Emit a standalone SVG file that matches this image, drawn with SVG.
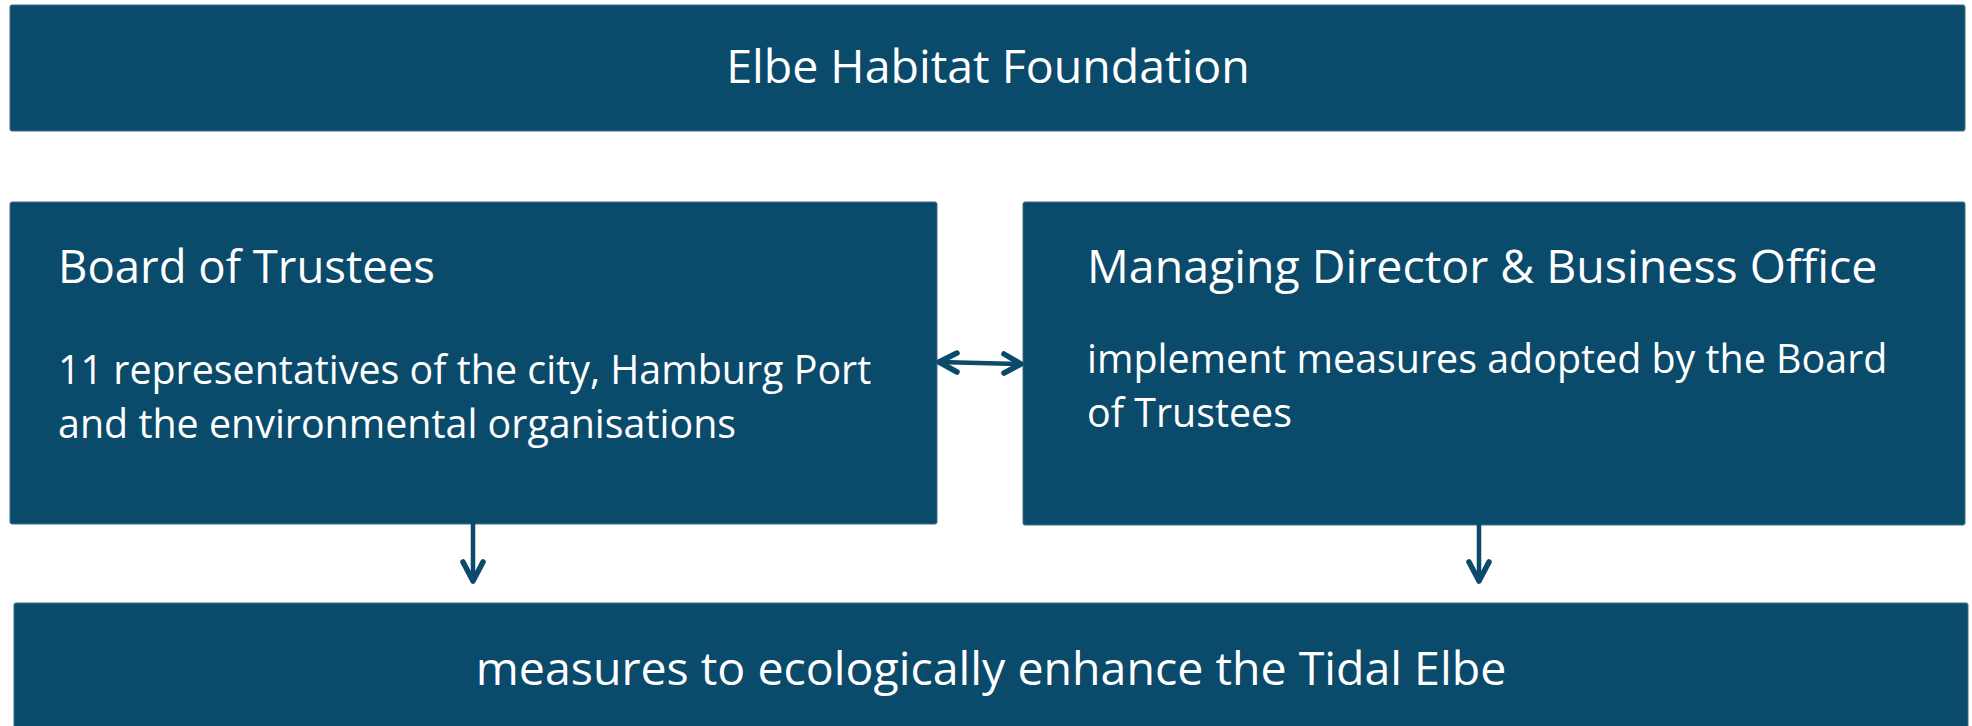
<svg xmlns="http://www.w3.org/2000/svg" width="1972" height="726" viewBox="0 0 1972 726">
  <style>
    .box { fill: #0a4a6b; stroke: #3d6e8a; stroke-width: 1; }
    .t { font-family: "Open Sans", "Noto Sans", "Liberation Sans", sans-serif; font-size: 46.5px; fill: #ffffff; }
    .b { font-family: "Open Sans", "Noto Sans", "Liberation Sans", sans-serif; font-size: 39.4px; fill: #ffffff; }
    .c { text-anchor: middle; }
    .conn { stroke: #0a4a6b; stroke-width: 4.5; fill: none; stroke-linecap: round; stroke-linejoin: round; }
    .head { stroke: #0a4a6b; stroke-width: 5.5; fill: none; stroke-linecap: round; stroke-linejoin: round; }
  </style>
  <rect width="1972" height="726" fill="#ffffff"/>
  <g id="node-foundation">
    <rect class="box" x="10" y="5" width="1955" height="126" rx="2"/>
    <text class="t c" x="988" y="83">Elbe Habitat Foundation</text>
  </g>
  <g id="node-board">
    <rect class="box" x="10" y="202" width="927" height="322" rx="2"/>
    <text class="t" x="58" y="283" style="font-size:45.5px">Board of Trustees</text>
    <text class="b" x="58" y="384">11 representatives of the city, Hamburg Port</text>
    <text class="b" x="58" y="438">and the environmental organisations</text>
  </g>
  <g id="node-managing">
    <rect class="box" x="1023" y="202" width="942" height="323" rx="2"/>
    <text class="t" x="1087" y="283">Managing Director &amp; Business Office</text>
    <text class="b" x="1087" y="373">implement measures adopted by the Board</text>
    <text class="b" x="1087" y="427">of Trustees</text>
  </g>
  <g id="node-measures">
    <rect class="box" x="14" y="603" width="1954" height="130" rx="2"/>
    <text class="t c" x="991" y="685">measures to ecologically enhance the Tidal Elbe</text>
  </g>
  <g id="connectors">
    <path class="conn" d="M939 362 L1021 364"/>
    <path class="head" d="M957 353 L939 362 L957 372"/>
    <path class="head" d="M1004 354 L1021 364 L1004 373"/>
    <path class="conn" d="M473 524 L473 581"/>
    <path class="head" d="M463 562 L473 581 L483 562"/>
    <path class="conn" d="M1479 525 L1479 581"/>
    <path class="head" d="M1469 562 L1479 581 L1489 562"/>
  </g>
</svg>
